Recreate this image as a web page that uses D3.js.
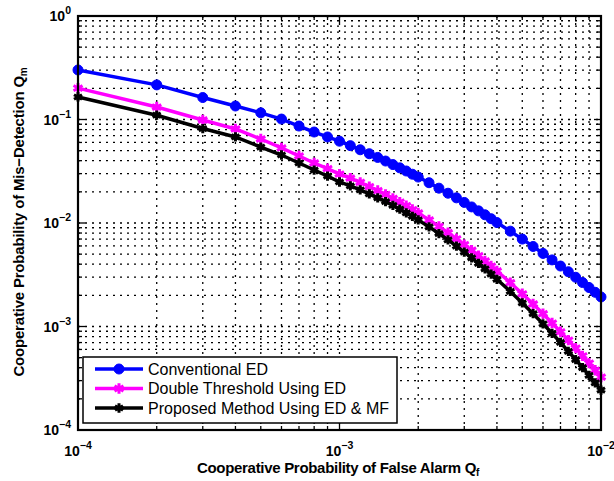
<!DOCTYPE html>
<html>
<head>
<meta charset="utf-8">
<script src="https://cdn.jsdelivr.net/npm/d3@7"></script>
<style>
  body { margin: 0; background: #fff; }
  text { font-family: "Liberation Sans", Arial, sans-serif; }
</style>
</head>
<body>
<svg width="614" height="481"></svg>
<script>
// false alarm probability Qf (x)
var qf = [1e-4, 2e-4, 3e-4, 4e-4, 5e-4, 6e-4, 7e-4, 8e-4, 9e-4, 1e-3,
    1.1e-3, 1.2e-3, 1.3e-3, 1.4e-3, 1.5e-3, 1.6e-3, 1.7e-3, 1.8e-3, 1.9e-3, 2e-3,
    2.2e-3, 2.4e-3, 2.6e-3, 2.8e-3, 3e-3, 3.2e-3, 3.4e-3, 3.6e-3, 3.8e-3, 4e-3,
    4.5e-3, 5e-3, 5.5e-3, 6e-3, 6.5e-3, 7e-3, 7.5e-3, 8e-3, 8.5e-3, 9e-3, 9.5e-3, 1e-2];

// mis-detection probability Qm for each method
var conventionalED = [0.301, 0.216, 0.163, 0.135, 0.116, 0.101, 0.0865, 0.0757, 0.0678, 0.0617,
    0.0559, 0.0510, 0.0467, 0.0430, 0.0397, 0.0367, 0.0341, 0.0318, 0.0296, 0.0278,
    0.0245, 0.0217, 0.0194, 0.0175, 0.0158, 0.0143, 0.0131, 0.0120, 0.0110, 0.0101,
    0.00834, 0.00699, 0.00593, 0.00508, 0.00440, 0.00384, 0.00338, 0.00299, 0.00266, 0.00238, 0.00214, 0.00193];

var doubleThreshold = [0.201, 0.132, 0.0989, 0.0810, 0.0648, 0.0531, 0.0444, 0.0380, 0.0335, 0.0297,
    0.0271, 0.0247, 0.0225, 0.0206, 0.0189, 0.0173, 0.0159, 0.0147, 0.0135, 0.0125,
    0.0107, 0.00928, 0.00806, 0.00704, 0.00619, 0.00546, 0.00483, 0.00430, 0.00384, 0.00344,
    0.00265, 0.00207, 0.00165, 0.00133, 0.00108, 0.000889, 0.000738, 0.000618, 0.000521, 0.000443, 0.000378, 0.000325];

var proposedMF = [0.165, 0.110, 0.0818, 0.0678, 0.0542, 0.0454, 0.0380, 0.0325, 0.0284, 0.0249,
    0.0228, 0.0209, 0.0191, 0.0175, 0.0161, 0.0148, 0.0136, 0.0125, 0.0116, 0.0107,
    0.00917, 0.00791, 0.00686, 0.00598, 0.00524, 0.00461, 0.00407, 0.00361, 0.00321, 0.00286,
    0.00218, 0.00169, 0.00133, 0.00106, 0.000859, 0.000701, 0.000576, 0.000478, 0.000400, 0.000337, 0.000285, 0.000243];

var seriesNames = ["Conventional ED", "Double Threshold Using ED", "Proposed Method Using ED & MF"];
var xTickExp = [-4, -3, -2];
var yTickExp = [0, -1, -2, -3, -4];

var svg = d3.select("svg"),
    pLeft = 78, pRight = 601, pTop = 16, pBottom = 430;

var x = d3.scaleLog().domain([1e-4, 1e-2]).range([pLeft, pRight]);
var y = d3.scaleLog().domain([1e-4, 1]).range([pBottom, pTop]);

// dotted grid, major + minor
var grid = svg.append("g")
    .attr("stroke", "#000")
    .attr("stroke-width", 1.3)
    .attr("stroke-dasharray", "2,5");

grid.selectAll(".gx")
    .data(x.ticks().filter(function(d) { return d > 1.01e-4 && d < 0.99e-2; }))
    .enter().append("line")
    .attr("x1", function(d) { return x(d); })
    .attr("x2", function(d) { return x(d); })
    .attr("y1", pTop).attr("y2", pBottom);

grid.selectAll(".gy")
    .data(y.ticks().filter(function(d) { return d > 1.01e-4 && d < 0.99; }))
    .enter().append("line")
    .attr("y1", function(d) { return y(d); })
    .attr("y2", function(d) { return y(d); })
    .attr("x1", pLeft).attr("x2", pRight);

// inner tick marks on all four sides
var ticks = svg.append("g").attr("stroke", "#000").attr("stroke-width", 1.3);
function isDecade(d) {
    return Math.abs(Math.log10(d) - Math.round(Math.log10(d))) < 1e-6;
}
x.ticks().forEach(function(d) {
    var len = isDecade(d) ? 7 : 4;
    ticks.append("line").attr("x1", x(d)).attr("x2", x(d)).attr("y1", pBottom).attr("y2", pBottom - len);
    ticks.append("line").attr("x1", x(d)).attr("x2", x(d)).attr("y1", pTop).attr("y2", pTop + len);
});
y.ticks().forEach(function(d) {
    var len = isDecade(d) ? 7 : 4;
    ticks.append("line").attr("y1", y(d)).attr("y2", y(d)).attr("x1", pLeft).attr("x2", pLeft + len);
    ticks.append("line").attr("y1", y(d)).attr("y2", y(d)).attr("x1", pRight).attr("x2", pRight - len);
});

// series
var series = [
    {name: seriesNames[0], values: conventionalED, color: "#0000ff", marker: "circle", size: 0},
    {name: seriesNames[1], values: doubleThreshold, color: "#ff00ff", marker: "star", size: 75},
    {name: seriesNames[2], values: proposedMF, color: "#000000", marker: "star", size: 60}
];

var line = d3.line()
    .x(function(d) { return x(d[0]); })
    .y(function(d) { return y(d[1]); });

function drawMarker(g, s, px, py) {
    if (s.marker === "circle") {
        g.append("circle").attr("cx", px).attr("cy", py).attr("r", 5)
            .attr("fill", s.color).attr("stroke", s.color).attr("stroke-width", 1);
    } else {
        g.append("path")
            .attr("d", d3.symbol().type(d3.symbolAsterisk).size(s.size)())
            .attr("transform", "translate(" + px + "," + py + ")")
            .attr("fill", "none").attr("stroke", s.color).attr("stroke-width", 3);
    }
}

series.forEach(function(s) {
    var pts = qf.map(function(v, i) { return [v, s.values[i]]; });
    var g = svg.append("g");
    g.append("path").datum(pts)
        .attr("d", line)
        .attr("fill", "none")
        .attr("stroke", s.color)
        .attr("stroke-width", 3.5);
    pts.forEach(function(p) { drawMarker(g, s, x(p[0]), y(p[1])); });
});

// axes box
svg.append("rect")
    .attr("x", pLeft).attr("y", pTop)
    .attr("width", pRight - pLeft).attr("height", pBottom - pTop)
    .attr("fill", "none").attr("stroke", "#000").attr("stroke-width", 2.2);

// tick labels
xTickExp.forEach(function(e) {
    var t = svg.append("text")
        .attr("x", x(Math.pow(10, e))).attr("y", 456)
        .attr("text-anchor", "middle")
        .attr("font-size", 14).attr("font-weight", "bold");
    t.append("tspan").text("10");
    t.append("tspan").attr("dy", -7).attr("font-size", 10.5).text("\u2212" + Math.abs(e));
});
yTickExp.forEach(function(e) {
    var t = svg.append("text")
        .attr("x", 71).attr("y", y(Math.pow(10, e)) + 5)
        .attr("text-anchor", "end")
        .attr("font-size", 14).attr("font-weight", "bold");
    t.append("tspan").text("10");
    t.append("tspan").attr("dy", -7).attr("font-size", 10.5).text(e === 0 ? "0" : "\u2212" + Math.abs(e));
});

// axis titles
var xt = svg.append("text")
    .attr("x", 338).attr("y", 473)
    .attr("text-anchor", "middle")
    .attr("font-size", 15).attr("font-weight", "bold")
    .attr("letter-spacing", -0.3);
xt.append("tspan").text("Cooperative Probability of False Alarm Q");
xt.append("tspan").attr("dy", 3).attr("font-size", 10).text("f");

var yt = svg.append("text")
    .attr("transform", "translate(24,222) rotate(-90)")
    .attr("text-anchor", "middle")
    .attr("font-size", 15).attr("font-weight", "bold")
    .attr("letter-spacing", -0.2);
yt.append("tspan").text("Cooperative Probability of Mis\u2212Detection Q");
yt.append("tspan").attr("dy", 3).attr("font-size", 10).text("m");

// legend
var lg = svg.append("g");
lg.append("rect")
    .attr("x", 83).attr("y", 357).attr("width", 314).attr("height", 66)
    .attr("fill", "#fff").attr("stroke", "#000").attr("stroke-width", 1.5);
series.forEach(function(s, i) {
    var ly = 369 + i * 19.5;
    lg.append("line")
        .attr("x1", 95).attr("x2", 143).attr("y1", ly).attr("y2", ly)
        .attr("stroke", s.color).attr("stroke-width", 3.5);
    drawMarker(lg, s, 119, ly);
    lg.append("text")
        .attr("x", 148).attr("y", ly + 5.5)
        .attr("font-size", 16)
        .text(s.name);
});
</script>
</body>
</html>
